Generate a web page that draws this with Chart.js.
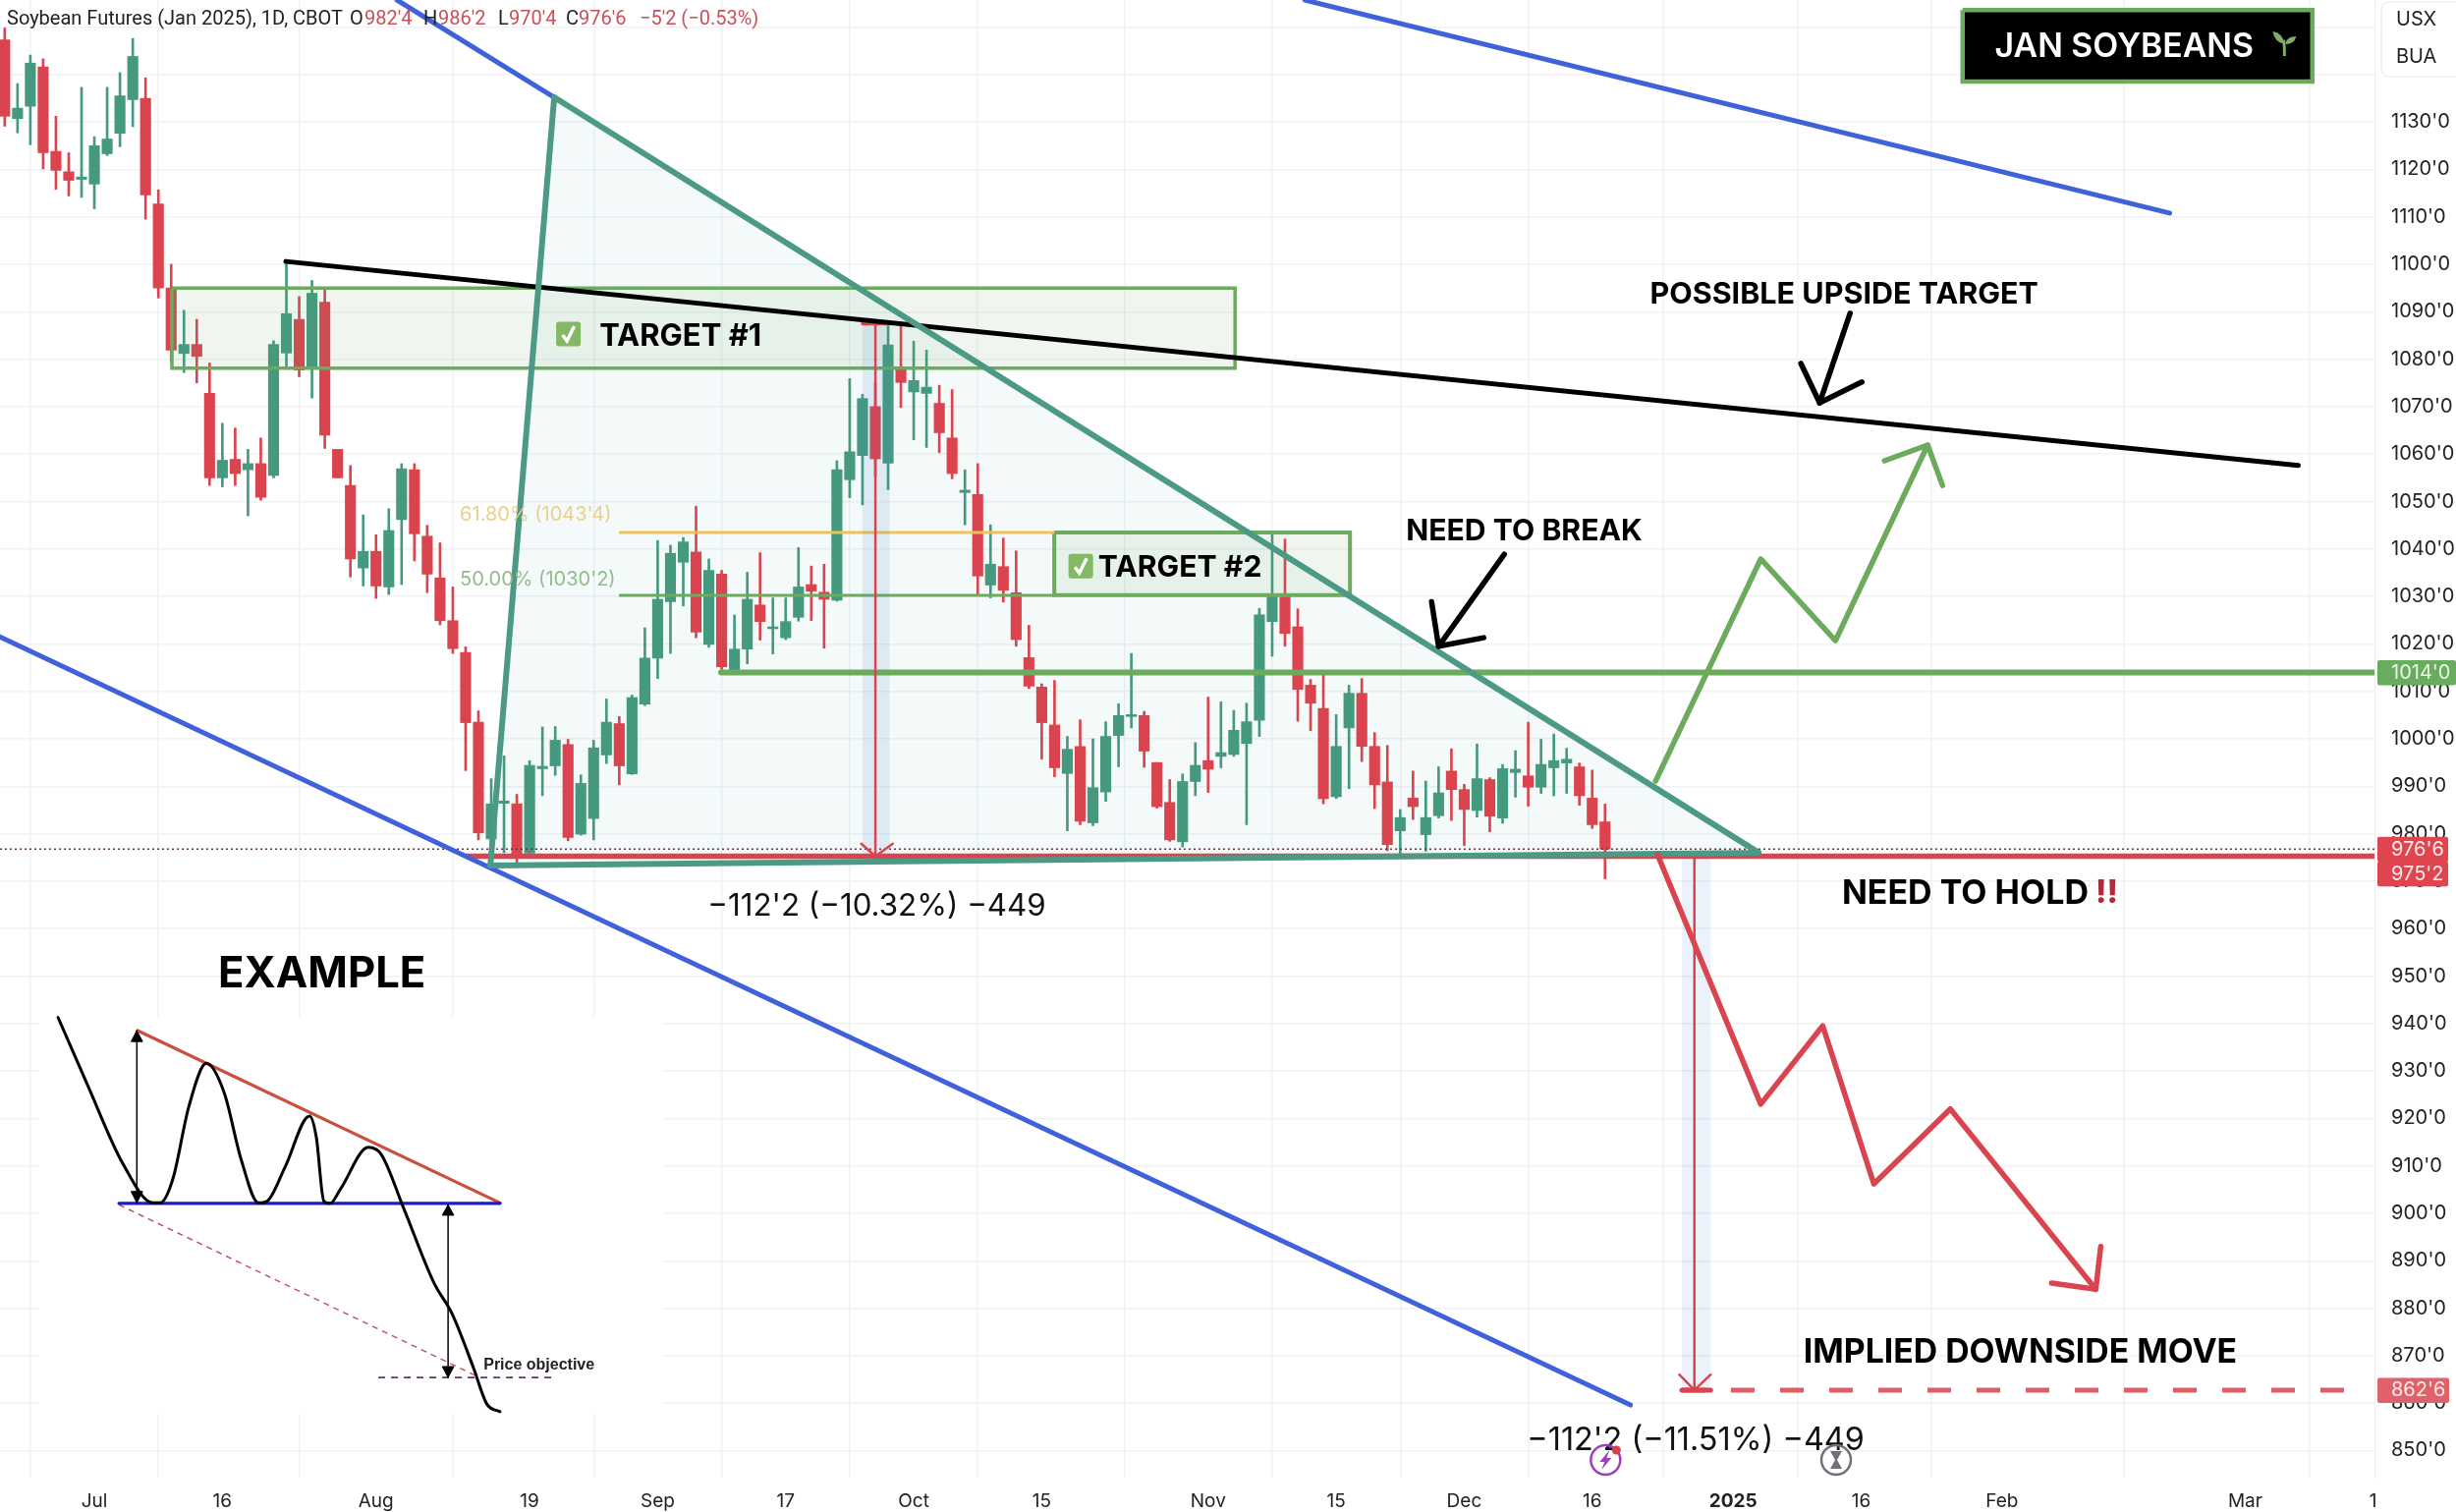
<!DOCTYPE html>
<html>
<head>
<meta charset="utf-8">
<title>Jan Soybeans</title>
<script src="https://cdn.jsdelivr.net/npm/chart.js@4/dist/chart.umd.min.js"></script>
<style>
  html, body { margin: 0; padding: 0; background: #fff; }
  canvas { display: block; }
</style>
</head>
<body>
<canvas id="chart" width="2500" height="1539"></canvas>
<script>
// Daily bars, Jul 2024 onwards. x axis is the bar number.
const opens = [
  1147.3,1130.7,1133.3,1141.6,1123.8,1119.5,1117.9,1116.9,1123.3,1127.6,
  1134.7,1135,1112.7,1095,1081.2,1083.1,1072.8,1055,1058.9,1056.7,
  1058,1055.5,1081.3,1088.4,1077.9,1092,1061,1053.4,1036,1039.5,
  1032,1046.2,1056.7,1042.7,1033.9,1024.9,1018.2,1003.5,978.9,986.4,
  986.3,975.9,993.7,994.3,998.8,979.9,983.2,996.6,1003.2,992.6,
  1007.3,1017,1028.9,1037.2,1039.4,1019.9,1034.7,1014.2,1018.9,1028.2,
  1023.2,1021.3,1025.6,1032.5,1030.9,1029.2,1054.6,1059.7,1070,1058.1,
  1078,1073.1,1072.8,1070.7,1063.4,1051.9,1051.5,1032.4,1036.3,1030.8,
  1017.1,1010.9,1002.9,992.7,998.4,982.3,988.8,1000.7,1004.7,1004.9,
  995,986.6,978.3,991,995.4,996.3,996.7,999,1003.9,1024.7,
  1030,1023.6,1011.3,1006.4,987.8,1002.3,1009.6,998.4,990.9,980.6,
  987.5,979.8,983.8,993.2,989.3,984.9,991.4,983.3,992.9,992.2,
  989.8,993.9,994.9,994.1,987.5,982.5
];
const highs = [
  1149.8,1138.1,1144.1,1143.3,1131.2,1123.5,1137.3,1126.9,1137.3,1140.4,
  1147.6,1139.3,1115.7,1100,1090.3,1088.4,1079.2,1066.5,1065.5,1061,
  1063.4,1083.9,1100.5,1093.2,1096.6,1095,1061,1057.6,1047.2,1043,
  1048.5,1058,1058,1045,1041.3,1032,1019.4,1005.9,991.6,996.4,
  988.3,995.4,1002.5,1002.6,999.9,992.4,999.7,1008.4,1004.7,1009.2,
  1023.4,1041.8,1040.8,1042.4,1049,1037.9,1035.5,1026.1,1035.1,1039.2,
  1029.7,1029.7,1040.3,1036.4,1036.8,1058.6,1075.9,1072.6,1075,1087,
  1087,1083.8,1081.9,1074.5,1073.6,1056.7,1058,1045.1,1042.3,1039.6,
  1023.9,1011.6,1012.3,1000.5,1004,1000,1003.6,1007.4,1018,1005.8,
  995,991.4,992.6,999.2,1008.8,1007.8,1006,1007.5,1027.5,1043.2,
  1042.1,1027.4,1012.5,1013.4,1005.1,1011.3,1012.7,1001.3,998.6,985.1,
  993.2,991.1,994.1,997.9,990.4,998.9,991.8,994.6,997.5,1003.5,
  999.9,1001,998,994.9,993.4,986.25
];
const lows = [
  1129.1,1127.7,1125.2,1120.1,1115.8,1114.4,1114.1,1111.7,1122.9,1124.8,
  1129,1109.5,1092.9,1079.4,1077.2,1075,1053.4,1053.1,1053.4,1047,
  1050.3,1055,1078,1076.3,1071.8,1061.2,1055,1034.1,1032.2,1029.6,
  1030.4,1032.5,1037.5,1030.8,1024,1018,993.3,978.7,975.6,976,
  974,975.4,988,992.3,978.5,979.7,978.7,994.8,990.3,992.5,
  1007,1012.7,1018,1028,1021.3,1019.3,1014.6,1013.9,1015.8,1020.8,
  1017.9,1020.9,1024.8,1024.9,1019.1,1029,1050.8,1049.3,1055.4,1052.5,
  1069.8,1063,1061.4,1060.3,1054.8,1045.1,1030.5,1029.7,1028.8,1019.5,
  1010.6,995.7,992,980.6,981.9,981.7,986.8,994.1,1002.3,994,
  985.4,978.4,977.2,988,988.7,993.9,996.3,981.9,1000.5,1017.4,
  1019.5,1003.7,1001.7,986.3,987.4,989.5,995.2,985.3,976.4,975.6,
  983,976.3,983.3,982.8,977.5,983.5,980.4,982.2,987.7,985.8,
  988.5,988,988.5,986,981.1,970.5
];
const closes = [
  1131.2,1132.9,1142.4,1123.5,1119.8,1117.7,1118.4,1125,1126.4,1135.5,
  1143.8,1114.6,1095,1081.9,1083.1,1080.6,1055,1058.7,1055.9,1058,
  1050.9,1083.1,1089.6,1077.7,1093.9,1064,1055,1037.9,1039.5,1032.2,
  1043.9,1056.9,1043.2,1034.7,1024.9,1019,1003.4,980.2,986.3,986.9,
  975.2,994.4,994.2,999.7,979.2,990.6,998.1,1003.5,994.3,1008.7,
  1017,1029.4,1039.1,1041.5,1022.5,1035.5,1015.2,1018.9,1029.4,1024.7,
  1023.6,1024.7,1032,1031.1,1029.4,1056.7,1060.5,1071.7,1059,1083,
  1075.1,1075.5,1074.1,1064.5,1055.9,1052.4,1034.3,1036.8,1031.3,1020.9,
  1011.1,1003.4,993.9,997.8,982.6,989.7,1000.5,1004.9,1005.1,997.4,
  985.7,978.7,991,994.4,993.6,997.1,1001.8,1003.6,1026.1,1030,
  1022.2,1010.4,1007.5,987.4,998.4,1009.6,998.4,990.3,977.7,983.4,
  985.7,983.4,988.6,989.3,985.1,991.6,983.7,993.7,993.6,989.8,
  994.6,995.4,995.7,988,981.9,976.75
];

const xTickBars = [7, 17, 29, 41, 51, 61, 71, 81, 94, 104, 114, 124, 135, 145, 156, 175, 185];
const xTickLabels = ['Jul', '16', 'Aug', '19', 'Sep', '17', 'Oct', '15', 'Nov', '15', 'Dec', '16', '2025', '16', 'Feb', 'Mar', '1'];
const yTickValues = [850, 860, 870, 880, 890, 900, 910, 920, 930, 940, 950, 960, 970, 980, 990, 1000, 1010, 1020, 1030, 1040, 1050, 1060, 1070, 1080, 1090, 1100, 1110, 1120, 1130, 1140, 1150];
const yHiddenLabels = [1140, 1150];

// Drawings on the chart, [bar, price]
const channelUpper = [[30.64, 1155.7], [42.92, 1135.2]];
const channelFar = [[101.55, 1155.7], [169.1, 1110.8]];
const channelLower = [[-0.37, 1021.5], [126.98, 859.6]];
const blackTrend = [[21.96, 1100.6], [179.15, 1057.6]];
const triangle = [[42.92, 1135.2], [137, 976], [37.93, 973.3], [42.92, 1135.2]];
const targetOneBox = [[13.06, 1095], [96.1, 1095], [96.1, 1078.1], [13.06, 1078.1], [13.06, 1095]];
const targetTwoBox = [[81.98, 1043.5], [105.08, 1043.5], [105.08, 1030.3], [81.98, 1030.3], [81.98, 1043.5]];
const fibGold = [[47.98, 1043.5], [81.98, 1043.5]];
const fibGreen = [[47.98, 1030.25], [81.98, 1030.25]];
const breakLevel = [[55.96, 1014], [185.1, 1014]];
const holdLevel = [[36, 975.25], [185.1, 975.25]];
const lastPrice = [[-0.37, 976.75], [185.1, 976.75]];
const impliedLevel = [[131, 862.75], [183.3, 862.75]];

const measureOneBand = [[66.99, 1087.5], [69.12, 1087.5], [69.12, 975.25], [66.99, 975.25], [66.99, 1087.5]];
const measureOneStem = [[68.01, 1087.3], [68.01, 975.25]];
const measureOneCap = [[67, 1087.5], [69.1, 1087.5]];
const measureOneHead = [[66.9, 977.9], [68.01, 975.25], [69.37, 977.9]];
const measureTwoBand = [[131, 975.25], [133.25, 975.25], [133.25, 862.75], [131, 862.75], [131, 975.25]];
const measureTwoStem = [[131.98, 975.25], [131.98, 862.75]];
const measureTwoHead = [[130.8, 866], [131.98, 862.75], [133.25, 866]];
const measureTwoCap = [[131, 862.75], [133.25, 862.75]];

const upPath = [[128.95, 991.1], [137.16, 1037.9], [143, 1020.7], [150.2, 1061.9]];
const upHead = [[146.83, 1058.6], [150.2, 1061.9], [151.36, 1053.4]];
const downPath = [[129.1, 975.6], [137.16, 923], [142, 939.5], [146, 906.2], [151.97, 922], [163.33, 884]];
const downHead = [[159.88, 885.3], [163.33, 884], [163.72, 893]];
const breakArrow = [[117.13, 1038.9], [112, 1019.5]];
const breakHead = [[111.45, 1028.9], [112, 1019.5], [115.52, 1021.3]];
const upsideArrow = [[144.14, 1089.7], [141.76, 1070.8]];
const upsideHead = [[140.3, 1079.1], [141.76, 1070.8], [145.06, 1075.2]];
const titleBox = [[152.93, 1153.6], [180.25, 1153.6], [180.25, 1138.5], [152.93, 1138.5], [152.93, 1153.6]];

// Example inset
const insetPanel = [[2.7, 941.4], [51.4, 941.4], [51.4, 857.6], [2.7, 857.6]];
const insetPrice = [[4.16, 941.3], [6.46, 927.1], [9.22, 910.5], [11.6, 902.2], [12.14, 902.2], [13.14, 907.3], [14.37, 922.4], [15.75, 931.6], [17.13, 925.5], [18.47, 911.3], [19.82, 902.2], [20.51, 902.6], [21.89, 909.7], [23.81, 920.5], [24.34, 916], [24.92, 902.6], [25.42, 902.1], [26.2, 905], [28.41, 913.9], [29.41, 912.4], [31.17, 901], [33.55, 885.2], [34.93, 878.9], [36.62, 867.4], [37.66, 859.8], [38.69, 858.2]];
const insetResistance = [[10.38, 938.5], [38.69, 902.2]];
const insetSupport = [[8.92, 902.1], [38.69, 902.1]];
const insetProjection = [[8.92, 901.8], [36.78, 865.8]];
const insetObjective = [[29.18, 865.4], [42.76, 865.4]];
const insetLeftStem = [[10.32, 938.5], [10.32, 902.2]];
const insetLeftTop = [[10.32, 938.5], [10.77, 936.2], [9.87, 936.2], [10.32, 938.5]];
const insetLeftBottom = [[10.32, 902.2], [10.77, 904.6], [9.87, 904.6], [10.32, 902.2]];
const insetRightStem = [[34.63, 901.8], [34.63, 865.4]];
const insetRightTop = [[34.63, 901.8], [35.08, 899.6], [34.18, 899.6], [34.63, 901.8]];
const insetRightBottom = [[34.63, 865.4], [35.08, 867.7], [34.18, 867.7], [34.63, 865.4]];

const bars = opens.map((o, i) => i);
const RED = '#D9444E';
const GREEN = '#45997F';
const LINE_GREEN = '#6CAA5E';
const TEAL = '#4C9A85';
const BLUE = '#3F62DA';
const FONT = 'Inter, sans-serif';

function pts(list) {
  return list.map(p => ({ x: p[0], y: p[1] }));
}

function path(list, color, width, order, extra) {
  return Object.assign({
    type: 'line',
    data: pts(list),
    borderColor: color,
    borderWidth: width,
    pointRadius: 0,
    tension: 0,
    fill: false,
    order: order,
    borderCapStyle: 'round',
    borderJoinStyle: 'round',
  }, extra || {});
}

function shape(list, fillColor, borderColor, width, order) {
  return path(list, borderColor, width, order, {
    fill: 'shape',
    backgroundColor: fillColor,
    borderCapStyle: 'butt',
    borderJoinStyle: 'miter',
  });
}

const candleColors = bars.map(i => closes[i] >= opens[i] ? GREEN : RED);

const datasets = [
  // order: higher numbers go underneath
  shape(insetPanel, '#fff', 'rgba(0,0,0,0)', 0, 90),
  shape(targetOneBox, 'rgba(108,170,94,0.10)', LINE_GREEN, 3.5, 40),
  shape(targetTwoBox, 'rgba(108,170,94,0.10)', LINE_GREEN, 4, 40),
  shape(triangle, 'rgba(60,170,160,0.06)', 'rgba(0,0,0,0)', 0, 75),
  shape(measureOneBand, 'rgba(70,130,215,0.13)', 'rgba(0,0,0,0)', 0, 35),
  shape(measureTwoBand, 'rgba(70,130,215,0.10)', 'rgba(0,0,0,0)', 0, 35),
  {
    type: 'bar',
    data: bars.map(i => ({ x: i, y: [lows[i], highs[i]] })),
    backgroundColor: candleColors,
    barThickness: 2,
    grouped: false,
    order: 60,
  },
  {
    type: 'bar',
    data: bars.map(i => ({ x: i, y: [Math.min(opens[i], closes[i]), Math.max(opens[i], closes[i])] })),
    backgroundColor: candleColors,
    barThickness: 10.5,
    grouped: false,
    order: 55,
  },
  path(lastPrice, '#5A3A3E', 1.5, 50, { borderDash: [2, 3], borderCapStyle: 'butt' }),
  path(fibGold, '#EFC159', 3, 38, { borderCapStyle: 'butt' }),
  path(fibGreen, LINE_GREEN, 3, 38, { borderCapStyle: 'butt' }),
  path(holdLevel, RED, 5.5, 30, { borderCapStyle: 'butt' }),
  path(breakLevel, LINE_GREEN, 6, 30),
  path(impliedLevel, '#DC5F68', 5, 30, { borderDash: [24, 26], borderCapStyle: 'butt' }),
  path(measureOneStem, RED, 2.5, 28),
  path(measureOneHead, RED, 2.5, 28),
  path(measureOneCap, RED, 3.5, 28),
  path(measureTwoStem, RED, 2.5, 28),
  path(measureTwoHead, RED, 2.5, 28),
  path(measureTwoCap, RED, 5, 28),
  path(channelUpper, BLUE, 5, 26),
  path(channelFar, BLUE, 5, 26),
  path(channelLower, BLUE, 5, 26),
  path(blackTrend, '#000', 5, 22),
  path(triangle, TEAL, 6, 20),
  path(upPath, LINE_GREEN, 5.5, 18),
  path(upHead, LINE_GREEN, 5.5, 18),
  path(downPath, RED, 5.5, 18),
  path(downHead, RED, 5.5, 18),
  path(breakArrow, '#000', 5.5, 16),
  path(breakHead, '#000', 5.5, 16),
  path(upsideArrow, '#000', 5.5, 16),
  path(upsideHead, '#000', 5.5, 16),
  shape(titleBox, '#000', LINE_GREEN, 4.5, 14),
  path(insetPrice, '#000', 3, 84, { cubicInterpolationMode: 'monotone' }),
  path(insetResistance, '#C8503C', 3.2, 86),
  path(insetSupport, '#1A1ACD', 3.2, 85),
  path(insetProjection, '#C4505C', 1.5, 86, { borderDash: [6, 5], borderCapStyle: 'butt' }),
  path(insetObjective, '#5E3768', 1.8, 86, { borderDash: [7, 6], borderCapStyle: 'butt' }),
  path(insetLeftStem, '#000', 1.5, 83),
  path(insetRightStem, '#000', 1.5, 83),
  shape(insetLeftTop, '#000', '#000', 1, 83),
  shape(insetLeftBottom, '#000', '#000', 1, 83),
  shape(insetRightTop, '#000', '#000', 1, 83),
  shape(insetRightBottom, '#000', '#000', 1, 83),
];

// Text and small furniture on top of the datasets
const notes = [
  { text: "\u2212112'2 (\u221210.32%) \u2212449", x: 54.9, y: 965, font: '400 31.3px ' + FONT, color: '#111' },
  { text: "\u2212112'2 (\u221211.51%) \u2212449", x: 118.9, y: 852.4, font: '400 32.4px ' + FONT, color: '#111' },
  { text: 'EXAMPLE', x: 16.67, y: 950.7, font: '700 43.6px ' + FONT, color: '#000' },
  { text: 'TARGET #1', x: 46.45, y: 1085.1, font: '700 31px ' + FONT, color: '#000' },
  { text: 'TARGET #2', x: 85.4, y: 1036.4, font: '700 30.2px ' + FONT, color: '#000' },
  { text: 'POSSIBLE UPSIDE TARGET', x: 128.5, y: 1094, font: '700 30.5px ' + FONT, color: '#000' },
  { text: 'NEED TO BREAK', x: 109.45, y: 1044.1, font: '700 30.2px ' + FONT, color: '#000' },
  { text: 'NEED TO HOLD', x: 143.5, y: 967.7, font: '700 34px ' + FONT, color: '#000' },
  { text: '!!', x: 163.3, y: 967.7, font: '800 32px ' + FONT, color: '#AF2C3C' },
  { text: 'IMPLIED DOWNSIDE MOVE', x: 140.5, y: 871, font: '700 33.8px ' + FONT, color: '#000' },
  { text: 'JAN SOYBEANS', x: 155.45, y: 1146.2, font: '600 33.8px ' + FONT, color: '#fff' },
  { text: "61.80% (1043'4)", x: 35.55, y: 1047.5, font: '400 20px ' + FONT, color: '#E9D08C' },
  { text: "50.00% (1030'2)", x: 35.55, y: 1033.8, font: '400 20px ' + FONT, color: '#93BC8C' },
  { text: 'Price objective', x: 37.4, y: 868.3, font: '700 16px "Liberation Sans", sans-serif', color: '#222' },
];
const headerParts = [
  ['Soybean Futures (Jan 2025), 1D, CBOT', 7, '#222'],
  ['O', 356, '#222'], ["982'4", 371, '#C9505A'],
  ['H', 431, '#222'], ["986'2", 446, '#C9505A'],
  ['L', 507, '#222'], ["970'4", 518, '#C9505A'],
  ['C', 576, '#222'], ["976'6", 589, '#C9505A'],
  ["\u22125'2 (\u22120.53%)", 651, '#C9505A'],
];
const priceBadges = [
  { text: "1014'0", value: 1014, color: '#68AC5E', width: 80, ink: '#EAF5E7' },
  { text: "976'6", value: 976.75, color: '#E0454F', width: 72, ink: '#FBE9EA' },
  { text: "975'2", value: 971.6, color: '#E0454F', width: 72, ink: '#FBE9EA' },
  { text: "862'6", value: 862.75, color: '#E0616A', width: 73, ink: '#FBE9EA' },
];
const checkMarks = [[44.03, 1085.3], [84.05, 1036.4]];
const sessionIcons = [125.04, 143.05];

function roundRect(ctx, x, y, w, h, r) {
  ctx.beginPath();
  ctx.roundRect(x, y, w, h, r);
}

const furniture = {
  id: 'furniture',
  afterDraw(chart) {
    const { ctx, scales } = chart;
    const X = scales.x, Y = scales.y;
    ctx.save();
    ctx.textBaseline = 'middle';
    ctx.textAlign = 'left';

    notes.forEach(n => {
      ctx.font = n.font;
      ctx.fillStyle = n.color;
      ctx.fillText(n.text, X.getPixelForValue(n.x), Y.getPixelForValue(n.y) + 1.5);
    });

    ctx.font = '400 20px Roboto, sans-serif';
    headerParts.forEach(p => {
      ctx.fillStyle = p[2];
      ctx.fillText(p[0], p[1], 20);
    });

    // check mark icons
    checkMarks.forEach(c => {
      const cx = X.getPixelForValue(c[0]), cy = Y.getPixelForValue(c[1]);
      ctx.fillStyle = '#82B866';
      roundRect(ctx, cx - 12.5, cy - 12.5, 25, 25, 3);
      ctx.fill();
      ctx.strokeStyle = '#fff';
      ctx.lineWidth = 3.5;
      ctx.beginPath();
      ctx.moveTo(cx - 6, cy + 1);
      ctx.lineTo(cx - 1.5, cy + 7);
      ctx.lineTo(cx + 6, cy - 8);
      ctx.stroke();
    });

    // seedling in the title box
    const sx = X.getPixelForValue(178.07), sy = Y.getPixelForValue(1146.6);
    ctx.strokeStyle = '#7FAE6A';
    ctx.fillStyle = '#7FAE6A';
    ctx.lineWidth = 3;
    ctx.beginPath();
    ctx.moveTo(sx, sy + 13);
    ctx.quadraticCurveTo(sx, sy - 1, sx - 1, sy - 3);
    ctx.stroke();
    ctx.beginPath();
    ctx.moveTo(sx, sy + 1);
    ctx.quadraticCurveTo(sx - 2, sy - 11, sx - 12, sy - 12);
    ctx.quadraticCurveTo(sx - 10, sy - 1, sx, sy + 1);
    ctx.fill();
    ctx.beginPath();
    ctx.moveTo(sx + 1, sy + 1);
    ctx.quadraticCurveTo(sx + 2, sy - 7, sx + 12, sy - 7);
    ctx.quadraticCurveTo(sx + 10, sy + 1, sx + 1, sy + 1);
    ctx.fill();

    // price badges on the axis
    ctx.font = '400 20px ' + FONT;
    priceBadges.forEach(b => {
      const by = Y.getPixelForValue(b.value);
      ctx.fillStyle = b.color;
      roundRect(ctx, 2420, by - 12.5, b.width, 25.5, 2);
      ctx.fill();
      ctx.fillStyle = b.ink;
      ctx.fillText(b.text, 2434, by + 0.5);
    });

    // scale box, top right
    ctx.strokeStyle = '#eef0f2';
    ctx.lineWidth = 1.5;
    roundRect(ctx, 2424, 2, 90, 76, 7);
    ctx.stroke();
    ctx.fillStyle = '#222';
    ctx.fillText('USX', 2439, 20);
    ctx.fillText('BUA', 2439, 58);

    // session icons on the time axis
    const iconY = 1486;
    sessionIcons.forEach((bar, k) => {
      const ix = X.getPixelForValue(bar);
      const tint = k === 0 ? '#9C3FBF' : '#6E7277';
      ctx.strokeStyle = tint;
      ctx.fillStyle = tint;
      ctx.lineWidth = 2.5;
      ctx.beginPath();
      ctx.arc(ix, iconY, 15, 0, Math.PI * 2);
      ctx.stroke();
      ctx.beginPath();
      if (k === 0) {
        ctx.moveTo(ix + 4, iconY - 10);
        ctx.lineTo(ix - 6, iconY + 2);
        ctx.lineTo(ix - 1, iconY + 2);
        ctx.lineTo(ix - 4, iconY + 10);
        ctx.lineTo(ix + 6, iconY - 2);
        ctx.lineTo(ix + 1, iconY - 2);
      } else {
        ctx.moveTo(ix - 6, iconY - 9);
        ctx.lineTo(ix + 6, iconY - 9);
        ctx.lineTo(ix + 1, iconY);
        ctx.lineTo(ix + 6, iconY + 9);
        ctx.lineTo(ix - 6, iconY + 9);
        ctx.lineTo(ix - 1, iconY);
      }
      ctx.closePath();
      ctx.fill();
      if (k === 0) {
        ctx.fillStyle = '#DB3F4A';
        ctx.beginPath();
        ctx.arc(ix + 11, iconY - 10, 4.5, 0, Math.PI * 2);
        ctx.fill();
      }
    });
    ctx.restore();
  }
};

new Chart(document.getElementById('chart'), {
  type: 'bar',
  data: { datasets },
  plugins: [furniture],
  options: {
    responsive: false,
    animation: false,
    devicePixelRatio: 1,
    layout: { padding: 0 },
    plugins: {
      legend: { display: false },
      tooltip: { enabled: false },
    },
    scales: {
      x: {
        type: 'linear',
        offset: false,
        min: -0.37,
        max: 185.1,
        afterBuildTicks: s => { s.ticks = xTickBars.map(value => ({ value })); },
        afterFit: s => { s.height = 35; s.paddingLeft = 0; s.paddingRight = 0; },
        grid: { color: '#f1f2f4', lineWidth: 1.5, drawTicks: false },
        border: { display: false },
        ticks: {
          autoSkip: false,
          maxRotation: 0,
          padding: 13,
          color: '#222',
          font: c => ({ family: 'Inter', size: 19, weight: c.index === 12 ? '700' : '400' }),
          callback: (v, i) => xTickLabels[i],
        },
      },
      y: {
        position: 'right',
        min: 844.3,
        max: 1155.7,
        afterBuildTicks: s => { s.ticks = yTickValues.map(value => ({ value })); },
        afterFit: s => { s.width = 83; s.paddingTop = 0; s.paddingBottom = 0; },
        grid: { color: '#f1f2f4', lineWidth: 1.5, drawTicks: false },
        border: { color: '#eceef0' },
        ticks: {
          autoSkip: false,
          padding: 17,
          color: '#222',
          font: { family: 'Inter', size: 20 },
          callback: v => yHiddenLabels.includes(v) ? '' : v + "'0",
        },
      },
    },
  },
});
</script>
</body>
</html>
